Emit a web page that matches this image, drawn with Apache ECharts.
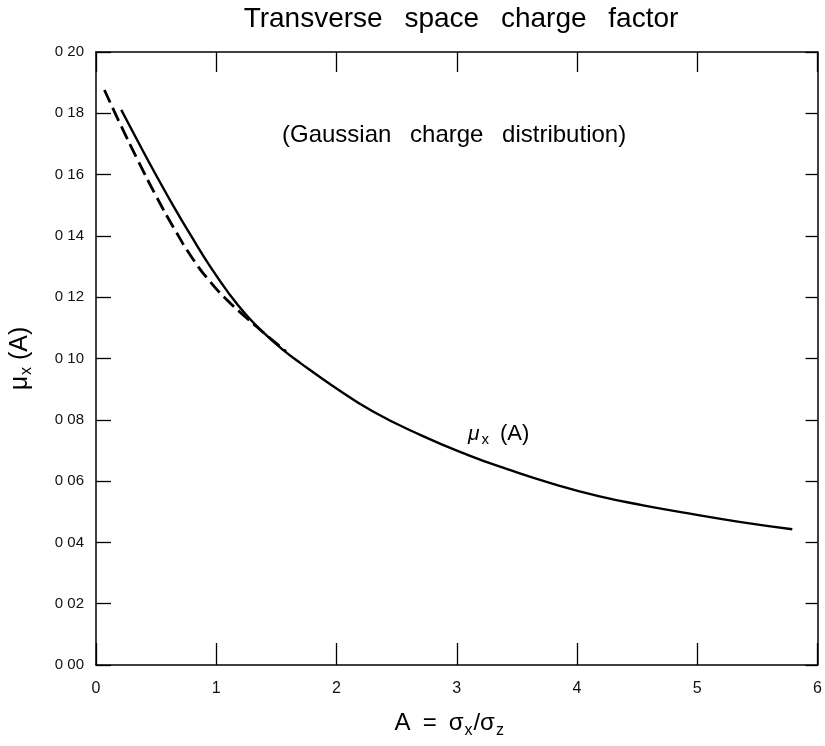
<!DOCTYPE html>
<html>
<head>
<meta charset="utf-8">
<script src="https://cdn.jsdelivr.net/npm/echarts@6/dist/echarts.min.js"></script>
<style>
  html, body { margin: 0; padding: 0; background: #fff; }
  #chart { width: 825px; height: 746px; }
</style>
</head>
<body>
<div id="chart"></div>
<script>
// Transverse space charge factor mu_x(A) for a Gaussian charge distribution
const xTicks = [0, 1, 2, 3, 4, 5, 6];
const yTickLabels = ['0 00', '0 02', '0 04', '0 06', '0 08', '0 10', '0 12', '0 14', '0 16', '0 18', '0 20'];

// solid curve: mu_x(A)
const solidA  = [0.21, 0.35, 0.50, 0.65, 0.80, 0.95, 1.10, 1.25, 1.40, 1.55, 1.70, 1.96, 2.30, 2.70, 3.10, 3.42, 3.80, 4.17, 4.55, 4.94, 5.35, 5.79];
const solidMu = [0.1811, 0.1707, 0.1598, 0.1493, 0.1394, 0.1300, 0.1215, 0.1142, 0.1082, 0.1030, 0.0985, 0.0913, 0.0828, 0.0750, 0.0684, 0.0639, 0.0591, 0.0552, 0.0521, 0.0494, 0.0467, 0.0443];

// dashed curve: approximation at small A
const dashA  = [0.07, 0.20, 0.35, 0.50, 0.65, 0.80, 0.95, 1.10, 1.25, 1.40, 1.58];
const dashMu = [0.1876, 0.1766, 0.1645, 0.1530, 0.1424, 0.1328, 0.1250, 0.1187, 0.1133, 0.1082, 0.1023];

const FONT = "'Liberation Sans', Arial, sans-serif";
const WS = '\u2002 '; // wide word gap used in the headings

const pairs = (xs, ys) => xs.map((x, i) => [x, ys[i]]);

const chart = echarts.init(document.getElementById('chart'), null, { renderer: 'canvas' });

const axisLine = { show: true, onZero: false, lineStyle: { color: '#000', width: 1.5 } };
const tickStyle = { color: '#000', width: 1.3 };

chart.setOption({
  backgroundColor: '#fff',
  animation: false,
  title: {
    text: ['Transverse', 'space', 'charge', 'factor'].join(WS),
    left: 456, top: 0, textAlign: 'center',
    textStyle: { fontFamily: FONT, fontSize: 28, fontWeight: 'normal', color: '#000' }
  },
  grid: { left: 96, right: 3, top: 52, bottom: 81, containLabel: false },
  xAxis: [
    {
      type: 'value', min: 0, max: 6, interval: 1, position: 'bottom',
      axisLine: axisLine,
      axisTick: { show: true, inside: true, length: 22, lineStyle: tickStyle },
      axisLabel: { margin: 16, fontFamily: FONT, fontSize: 16, color: '#111',
        formatter: v => String(xTicks[Math.round(v)]) },
      splitLine: { show: false },
      name: '{n|A\u2002=\u2002σ}{s|x}{n|/σ}{s|z}', nameLocation: 'middle', nameGap: 42,
      nameTextStyle: {
        padding: [0, 14, 0, 0],
        rich: {
          n: { fontFamily: FONT, fontSize: 24, color: '#000' },
          s: { fontFamily: FONT, fontSize: 16, color: '#000', padding: [16, 1, 0, 1] }
        }
      }
    },
    {
      type: 'value', min: 0, max: 6, interval: 1, position: 'top',
      axisLine: axisLine,
      axisTick: { show: true, inside: true, length: 20, lineStyle: tickStyle },
      axisLabel: { show: false }, splitLine: { show: false }
    }
  ],
  yAxis: [
    {
      type: 'value', min: 0, max: 0.2, interval: 0.02, position: 'left',
      axisLine: axisLine,
      axisTick: { show: true, inside: true, length: 15, lineStyle: tickStyle },
      axisLabel: { margin: 12, fontFamily: FONT, fontSize: 15, color: '#111',
        formatter: v => yTickLabels[Math.round(v / 0.02)] },
      splitLine: { show: false },
      name: '{n|μ}{s|x}{n| (A)}', nameLocation: 'middle', nameGap: 61, nameRotate: 90,
      nameTextStyle: {
        rich: {
          n: { fontFamily: FONT, fontSize: 25, color: '#000' },
          s: { fontFamily: FONT, fontSize: 16, color: '#000', padding: [13, 0, 0, 1] }
        }
      }
    },
    {
      type: 'value', min: 0, max: 0.2, interval: 0.02, position: 'right',
      axisLine: axisLine,
      axisTick: { show: true, inside: true, length: 12, lineStyle: tickStyle },
      axisLabel: { show: false }, splitLine: { show: false }
    }
  ],
  series: [
    {
      type: 'line', name: 'mu_x', data: pairs(solidA, solidMu),
      smooth: 0.5, showSymbol: false, symbol: 'none',
      lineStyle: { color: '#000', width: 2.4 },
      z: 3
    },
    {
      type: 'line', name: 'approx', data: pairs(dashA, dashMu),
      smooth: 0.5, showSymbol: false, symbol: 'none',
      lineStyle: { color: '#000', width: 2.8, type: [14, 6] },
      z: 2
    }
  ],
  graphic: [
    {
      type: 'text', left: 282, top: 123,
      style: { text: ['(Gaussian', 'charge', 'distribution)'].join(WS), fontFamily: FONT, fontSize: 24, fill: '#000' }
    },
    {
      type: 'text', left: 468, top: 423,
      style: {
        text: '{m|μ}{s|x}{n|(A)}',
        rich: {
          m: { fontFamily: FONT, fontSize: 21, fontStyle: 'italic', fill: '#000' },
          s: { fontFamily: FONT, fontSize: 15, fill: '#000', padding: [11, 0, 0, 2] },
          n: { fontFamily: FONT, fontSize: 22, fill: '#000', padding: [0, 0, 0, 11] }
        }
      }
    }
  ]
});
</script>
</body>
</html>
